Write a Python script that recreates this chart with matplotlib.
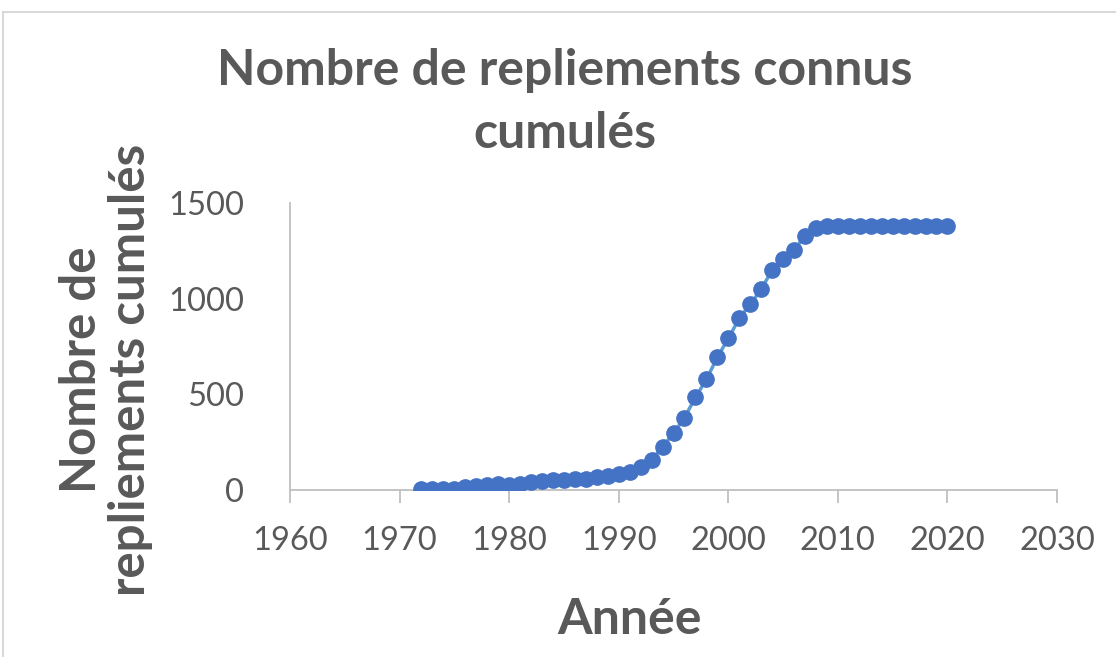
import matplotlib
matplotlib.use("Agg")
import matplotlib.pyplot as plt
from matplotlib.patches import Rectangle

# cumulative known folds per year
years = list(range(1972, 2021))
folds = [3, 3, 3, 5, 17, 22, 25, 31, 27, 33, 42, 47, 52, 52, 55, 58, 66, 75,
         84, 96, 118, 157, 226, 296, 378, 484, 578, 693, 792, 897, 970, 1049,
         1149, 1205, 1254, 1329, 1370, 1379, 1379, 1379, 1379, 1379, 1379,
         1379, 1379, 1379, 1379, 1379, 1379]
x_ticks = [1960, 1970, 1980, 1990, 2000, 2010, 2020, 2030]
y_ticks = [0, 500, 1000, 1500]

grey = "#595959"
plt.rcParams["font.family"] = ["Lato", "DejaVu Sans"]

fig = plt.figure(figsize=(11.16, 6.57), dpi=100)
ax = fig.add_axes([290 / 1116, 1 - 490 / 657, (1057 - 290) / 1116, (490 - 203) / 657])

ax.plot(years, folds, color="#5B9BD5", lw=2.5, zorder=2)
ax.plot(years, folds, "o", color="#4472C4", ms=11, mec="#4472C4", zorder=3)

ax.set_xlim(1960, 2030)
ax.set_ylim(0, 1500)
ax.set_xticks(x_ticks)
ax.set_yticks(y_ticks)
ax.tick_params(axis="x", direction="out", length=9, width=1.3, color="#bfbfbf",
               labelsize=23.5, labelcolor=grey, pad=17)
ax.tick_params(axis="y", length=0, labelsize=23.5, labelcolor=grey, pad=33)
for s in ["top", "right"]:
    ax.spines[s].set_visible(False)
for s in ["left", "bottom"]:
    ax.spines[s].set_color("#bfbfbf")
    ax.spines[s].set_linewidth(1.3)

fig.text(565 / 1116, 1 - 102 / 657, "Nombre de repliements connus\ncumulés",
         ha="center", va="center", fontsize=36, fontweight="bold", color=grey,
         linespacing=1.5)
fig.text(106 / 1116, 1 - 370 / 657, "Nombre de\nrepliements cumulés",
         ha="center", va="center", rotation=90, fontsize=35.5, fontweight="bold",
         color=grey, linespacing=1.1)
fig.text(630 / 1116, 1 - 620 / 657, "Année", ha="center", va="center",
         fontsize=36, fontweight="bold", color=grey)

# chart area border
fig.patches.append(Rectangle((3 / 1116, -0.1), 1.2, 1 - 12 / 657 + 0.1,
                             transform=fig.transFigure, fill=False,
                             edgecolor="#d9d9d9", lw=1.5))

fig.savefig("out.png", dpi=100)
